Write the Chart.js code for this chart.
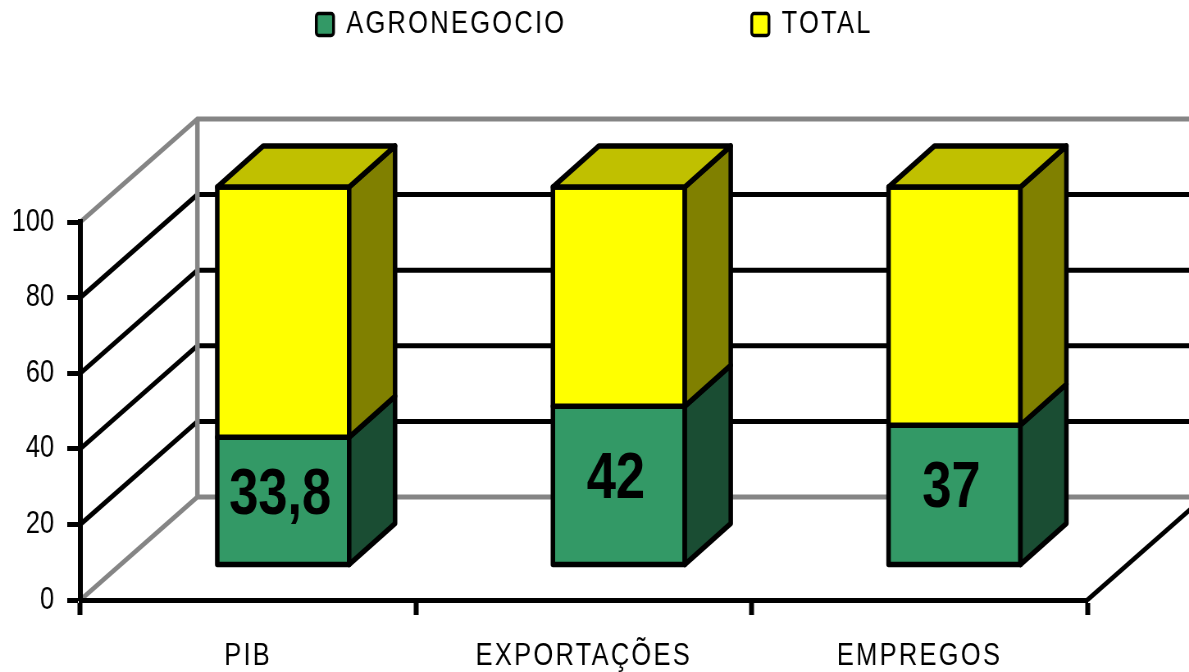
<!DOCTYPE html>
<html>
<head>
<meta charset="utf-8">
<script src="https://cdn.jsdelivr.net/npm/chart.js@4.4.1/dist/chart.umd.min.js"></script>
<style>
  html, body { margin: 0; padding: 0; background: #fff; }
  #wrap { width: 1189px; height: 672px; overflow: hidden; }
</style>
</head>
<body>
<!-- o grafico original e achatado na horizontal: desenha largo e comprime -->
<div id="wrap"><canvas id="grafico" width="1450" height="672" style="width:1189px;height:672px"></canvas></div>
<script>
const categorias = ['PIB', 'EXPORTAÇÕES', 'EMPREGOS'];
const agronegocio = [33.8, 42, 37];
const total = [66.2, 58, 63];
const ticksY = [0, 20, 40, 60, 80, 100];

const FONTE = 'Arial, "Liberation Sans", sans-serif';
const CINZA = '#858585';
// deslocamentos da perspectiva obliqua (em pixels internos do canvas)
const PAREDE = {x: 142.7, y: -103};
const FRENTE = {x: 42.7, y: -35};
const FUNDO = {x: 56, y: -41};
const LATERAL = ['#1a4d33', '#808000'];
const TOPO = ['#267350', '#c0c000'];

function poligono(ctx, pts, fill) {
    ctx.beginPath();
    ctx.moveTo(pts[0][0], pts[0][1]);
    for (let i = 1; i < pts.length; i++) ctx.lineTo(pts[i][0], pts[i][1]);
    ctx.closePath();
    ctx.fillStyle = fill;
    ctx.fill();
    ctx.stroke();
}

function linha(ctx, pts, cor) {
    ctx.beginPath();
    ctx.moveTo(pts[0][0], pts[0][1]);
    for (let i = 1; i < pts.length; i++) ctx.lineTo(pts[i][0], pts[i][1]);
    ctx.strokeStyle = cor;
    ctx.stroke();
}

const efeito3d = {
    id: 'efeito3d',
    beforeLayout(chart) {
        chart.ctx.letterSpacing = '2.8px';
    },
    afterLayout(chart) {
        // centraliza a legenda na largura toda
        const lg = chart.legend;
        const d = chart.width / 2 - (lg.left + lg.right) / 2;
        lg.left += d;
        lg.right += d;
        lg.top = 9 - lg.options.labels.padding;
        lg.bottom = chart.chartArea.top - 60;
        // numeros do eixo y sem espacamento entre letras
        const sy = chart.scales.y;
        if (!sy._semEspaco) {
            const desenhar = sy.drawLabels;
            sy.drawLabels = function(area) {
                const ls = this.ctx.letterSpacing;
                this.ctx.letterSpacing = '0px';
                desenhar.call(this, area);
                this.ctx.letterSpacing = ls;
            };
            sy._semEspaco = true;
        }
    },
    beforeDraw(chart) {
        const ctx = chart.ctx;
        const ys = chart.scales.y;
        const {left, right} = chart.chartArea;
        ctx.save();
        ctx.lineWidth = 5;
        ctx.lineJoin = 'miter';
        ticksY.forEach(v => {
            const y = ys.getPixelForValue(v);
            const cor = (v === 0 || v === 100) ? CINZA : '#000';
            linha(ctx, [[left, y], [left + PAREDE.x, y + PAREDE.y], [right + PAREDE.x, y + PAREDE.y]], cor);
        });
        const y0 = ys.getPixelForValue(0);
        const y100 = ys.getPixelForValue(100);
        ctx.lineWidth = 5.5;
        linha(ctx, [[left + PAREDE.x, y100 + PAREDE.y], [left + PAREDE.x, y0 + PAREDE.y]], CINZA);
        ctx.lineWidth = 5;
        linha(ctx, [[right, y0], [right + PAREDE.x, y0 + PAREDE.y]], '#000');
        ctx.restore();
    },
    beforeDatasetsDraw(chart) {
        const ctx = chart.ctx;
        const metas = chart.getSortedVisibleDatasetMetas();
        ctx.save();
        ctx.lineWidth = 5.5;
        ctx.lineJoin = 'round';
        ctx.strokeStyle = '#000';
        metas.forEach((meta, di) => {
            const ds = chart.data.datasets[meta.index];
            meta.data.forEach(el => {
                const p = el.getProps(['x', 'y', 'base', 'width'], true);
                const l = p.x - p.width / 2 + FRENTE.x;
                const r = p.x + p.width / 2 + FRENTE.x;
                const t = p.y + FRENTE.y;
                const b = p.base + FRENTE.y;
                poligono(ctx, [[l, t], [r, t], [r, b], [l, b]], ds.backgroundColor);
                poligono(ctx, [[r, t], [r + FUNDO.x, t + FUNDO.y], [r + FUNDO.x, b + FUNDO.y], [r, b]], LATERAL[di]);
                if (di === metas.length - 1) {
                    poligono(ctx, [[l, t], [l + FUNDO.x, t + FUNDO.y], [r + FUNDO.x, t + FUNDO.y], [r, t]], TOPO[di]);
                }
            });
        });
        // rotulos do agronegocio
        const m0 = metas[0];
        ctx.letterSpacing = '0px';
        ctx.font = 'bold 64px ' + FONTE;
        ctx.fillStyle = '#000';
        ctx.textAlign = 'center';
        ctx.textBaseline = 'middle';
        m0.data.forEach((el, i) => {
            const p = el.getProps(['x', 'y', 'base'], true);
            const cx = p.x + FRENTE.x - 3.7;
            const cy = (p.y + p.base) / 2 + FRENTE.y - 5;
            ctx.fillText(String(agronegocio[i]).replace('.', ','), cx, cy);
        });
        ctx.restore();
        return false;
    }
};

new Chart(document.getElementById('grafico'), {
    type: 'bar',
    data: {
        labels: categorias,
        datasets: [{
            label: 'AGRONEGOCIO',
            data: agronegocio,
            backgroundColor: '#339966',
            borderColor: '#000',
            borderWidth: 3.5
        }, {
            label: 'TOTAL',
            data: total,
            backgroundColor: '#ffff00',
            borderColor: '#000',
            borderWidth: 3.5
        }]
    },
    options: {
        responsive: false,
        animation: false,
        devicePixelRatio: 1,
        categoryPercentage: 1,
        barPercentage: 0.393,
        layout: {
            padding: {left: 0, right: 124, top: 122, bottom: 0}
        },
        plugins: {
            tooltip: {enabled: false},
            legend: {
                position: 'top',
                maxHeight: 100,
                labels: {
                    color: '#000',
                    font: {family: FONTE, size: 31},
                    boxWidth: 21,
                    boxHeight: 22,
                    padding: 226,
                    useBorderRadius: true,
                    borderRadius: 3
                }
            }
        },
        scales: {
            x: {
                stacked: true,
                grid: {drawOnChartArea: false, tickLength: 15, tickWidth: 6, tickColor: '#000', offset: true},
                border: {color: '#000', width: 5},
                ticks: {color: '#000', font: {family: FONTE, size: 31}, padding: 23, maxRotation: 0, autoSkip: false},
                afterFit(s) { s.height = 72; }
            },
            y: {
                stacked: true,
                min: 0,
                max: 100,
                afterBuildTicks(s) { s.ticks = ticksY.map(v => ({value: v})); },
                grid: {drawOnChartArea: false, tickLength: 16, tickWidth: 5, tickColor: '#000'},
                border: {color: '#000', width: 6},
                ticks: {color: '#000', font: {family: FONTE, size: 31}, padding: 16},
                afterFit(s) { s.width = 98; }
            }
        }
    },
    plugins: [efeito3d]
});
</script>
</body>
</html>
